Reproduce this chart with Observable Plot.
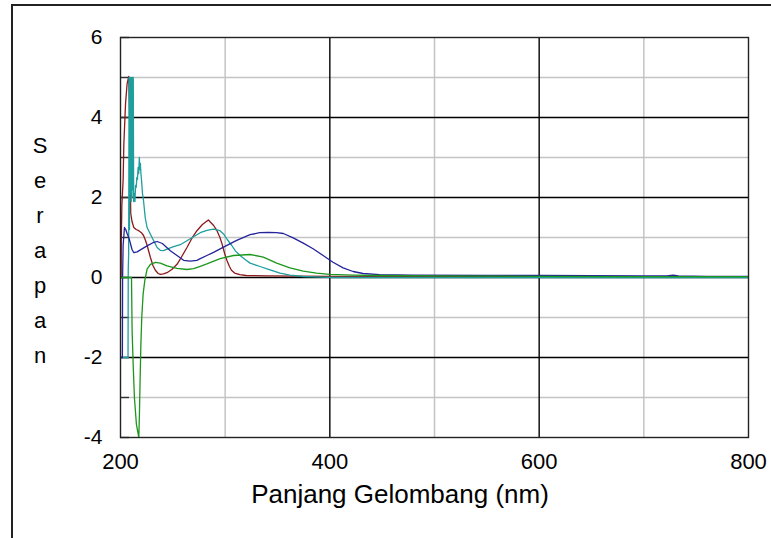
<!DOCTYPE html>
<html>
<head>
<meta charset="utf-8">
<script src="https://cdn.jsdelivr.net/npm/d3@7"></script>
<script src="https://cdn.jsdelivr.net/npm/@observablehq/plot@0.6"></script>
<style>
  html, body { margin: 0; padding: 0; background: #fff; }
  #wrap { position: relative; width: 771px; height: 538px; overflow: hidden; font-family: "Liberation Sans", Arial, sans-serif; }
  #frame { position: absolute; left: 11px; top: 4px; width: 900px; height: 700px; border-left: 2px solid #222; border-top: 2px solid #222; box-sizing: border-box; }
  #chart { position: absolute; left: 0; top: 0; }
  #ylab { position: absolute; left: 20px; top: 127.5px; width: 40px; text-align: center; font-size: 22px; line-height: 35.1px; color: #000; }
  #xlab { position: absolute; left: 100px; top: 481px; width: 600px; text-align: center; font-size: 26px; line-height: 26px; color: #000; white-space: nowrap; }
</style>
</head>
<body>
<div id="wrap">
  <div id="frame"></div>
  <div id="chart"></div>
  <div id="ylab">S<br>e<br>r<br>a<br>p<br>a<br>n</div>
  <div id="xlab">Panjang Gelombang (nm)</div>
</div>
<script>
// ---- data ----
const xTickLabels = [200, 400, 600, 800];
const yTickLabels = [-4, -2, 0, 2, 4, 6];
const xMajorGrid = [400, 600];
const xMinorGrid = [300, 500, 700];
const yMajorGrid = [-2, 0, 2, 4];
const yMinorGrid = [-3, -1, 1, 3, 5];
const yTickMarks = [-4, -3, -2, -1, 0, 1, 2, 3, 4, 5, 6];

const redX = [200, 200.6, 200.8, 201.3, 202.5, 203.2, 204.8, 206.3, 207.9, 208.6, 209.2, 209.8, 211, 212.7, 215, 217.4, 220, 222, 224, 225.5, 227, 228.6, 231, 233.3, 236, 238, 241, 244.4, 249, 254, 258, 263.5, 268, 273, 278, 281, 284, 286, 289, 292, 295, 297, 299.5, 301.6, 304, 306, 309, 314, 320, 340, 400, 500, 600, 700, 800];
const redY = [0, 0, 1.0, 1.8, 2.43, 3.34, 4.34, 4.84, 5.03, 4.2, 2.5, 1.6, 1.4, 1.25, 1.2, 1.17, 1.12, 1.05, 0.92, 0.8, 0.65, 0.5, 0.3, 0.18, 0.1, 0.08, 0.09, 0.12, 0.2, 0.33, 0.5, 0.75, 0.97, 1.17, 1.32, 1.38, 1.44, 1.38, 1.3, 1.18, 1.0, 0.84, 0.6, 0.43, 0.28, 0.18, 0.11, 0.07, 0.05, 0.04, 0.03, 0.02, 0.02, 0.01, 0.01];

const tealX = [200, 207.2, 207.4, 207.8, 208.2, 208.6, 209, 209.4, 209.8, 210.2, 210.6, 211, 211.4, 211.8, 212.2, 212.6, 213.2, 213.8, 214.4, 215, 215.6, 216.2, 216.8, 217.4, 218, 218.5, 219, 219.5, 220.2, 221, 222, 223.6, 225.4, 228.6, 231.7, 235, 238, 241, 244.4, 250.8, 257.1, 263.5, 269.8, 276.2, 282.5, 288.9, 295, 298.4, 302, 306.3, 310, 314.3, 319, 323.8, 333.3, 342.9, 352.4, 361.9, 374.6, 390, 404, 500, 600, 700, 800];
const tealY = [-2, -2, 0.2, 0.6, 5.0, 1.2, 5.0, 2.1, 5.0, 1.9, 5.0, 2.0, 5.0, 2.2, 5.0, 1.9, 2.1, 1.9, 2.3, 2.25, 2.5, 2.45, 2.75, 2.6, 3.0, 2.7, 2.85, 2.6, 2.4, 2.1, 1.92, 1.5, 1.25, 1.08, 0.92, 0.75, 0.68, 0.67, 0.71, 0.77, 0.82, 0.92, 1.02, 1.12, 1.18, 1.21, 1.17, 1.09, 0.95, 0.8, 0.66, 0.55, 0.45, 0.36, 0.275, 0.19, 0.11, 0.06, 0.025, 0.01, 0.0, 0.0, 0.0, 0.0, 0.0];

const blueX = [200, 201.8, 202.0, 202.5, 203.8, 205, 206.3, 207.9, 209.5, 211, 212.7, 215.9, 219, 225.4, 231, 235, 240, 247.6, 254, 260.3, 266.7, 273, 276.2, 282.5, 288.9, 298.4, 311, 323.8, 333, 341.3, 349, 355.6, 365, 374.6, 384, 393.6, 403, 412.7, 422.2, 431.7, 447.6, 479, 550, 600, 700, 722, 728, 733, 760, 800];
const blueY = [-2, -2, 0, 0.8, 1.25, 1.2, 1.1, 1.0, 0.85, 0.7, 0.62, 0.64, 0.69, 0.79, 0.87, 0.9, 0.85, 0.67, 0.55, 0.43, 0.41, 0.43, 0.47, 0.55, 0.63, 0.76, 0.93, 1.07, 1.12, 1.13, 1.12, 1.1, 0.99, 0.86, 0.72, 0.55, 0.38, 0.24, 0.15, 0.1, 0.07, 0.06, 0.05, 0.05, 0.04, 0.04, 0.06, 0.04, 0.03, 0.03];

const greenX = [200, 210.5, 211.1, 212.1, 213.3, 215.2, 217.5, 218.1, 218.7, 219.4, 220.3, 221.6, 223.2, 225.4, 228.6, 233.3, 238.1, 244.4, 254, 263.5, 269.8, 276.2, 282.5, 295.2, 307.9, 323.8, 336.5, 349.2, 361.9, 374.6, 387.3, 400, 422, 447.6, 500, 600, 700, 800];
const greenY = [0, 0, -1.33, -2.17, -3.0, -3.67, -4.0, -3.4, -2.6, -1.75, -1.0, -0.42, -0.08, 0.21, 0.33, 0.38, 0.36, 0.29, 0.23, 0.2, 0.22, 0.28, 0.34, 0.47, 0.55, 0.575, 0.51, 0.36, 0.24, 0.16, 0.11, 0.08, 0.06, 0.05, 0.04, 0.03, 0.02, 0.02];

const seriesNames = ["merah", "toska", "biru", "hijau"];
const seriesColors = ["#8b1a1a", "#1f9e9e", "#24249a", "#1c961c"];

// ---- build table ----
const seriesXs = [redX, tealX, blueX, greenX];
const seriesYs = [redY, tealY, blueY, greenY];
const rows = [];
seriesNames.forEach((name, i) => {
  seriesXs[i].forEach((x, j) => rows.push({ series: name, x, y: seriesYs[i][j] }));
});

const chart = Plot.plot({
  width: 771,
  height: 538,
  marginLeft: 120,
  marginRight: 23,
  marginTop: 37,
  marginBottom: 101,
  style: { fontFamily: '"Liberation Sans", Arial, sans-serif', background: "transparent", color: "#000" },
  x: { domain: [200, 800] },
  y: { domain: [-4, 6] },
  color: { domain: seriesNames, range: seriesColors },
  marks: [
    Plot.gridX(xMinorGrid, { stroke: "#c4c4c4", strokeOpacity: 1, strokeWidth: 1.5 }),
    Plot.gridY(yMinorGrid, { stroke: "#c4c4c4", strokeOpacity: 1, strokeWidth: 1.5 }),
    Plot.gridX(xMajorGrid, { stroke: "#000", strokeOpacity: 1, strokeWidth: 1.4 }),
    Plot.gridY(yMajorGrid, { stroke: "#000", strokeOpacity: 1, strokeWidth: 1.4 }),
    Plot.axisY({ ticks: yTickMarks, tickSize: 9, dx: 9, text: null, stroke: "#333", strokeWidth: 1.4, label: null }),
    Plot.line(rows, { x: "x", y: "y", z: "series", stroke: "series", strokeWidth: 1.3, clip: true }),
    Plot.frame({ stroke: "#222", strokeWidth: 1.4 }),
    Plot.axisY({ ticks: yTickLabels, tickSize: 0, tickPadding: 18, fontSize: 21, tickFormat: d => String(d), label: null }),
    Plot.axisX({ ticks: xTickLabels, tickSize: 0, tickPadding: 16, fontSize: 22, tickFormat: d => String(d), label: null })
  ]
});
document.getElementById("chart").appendChild(chart);
</script>
</body>
</html>
